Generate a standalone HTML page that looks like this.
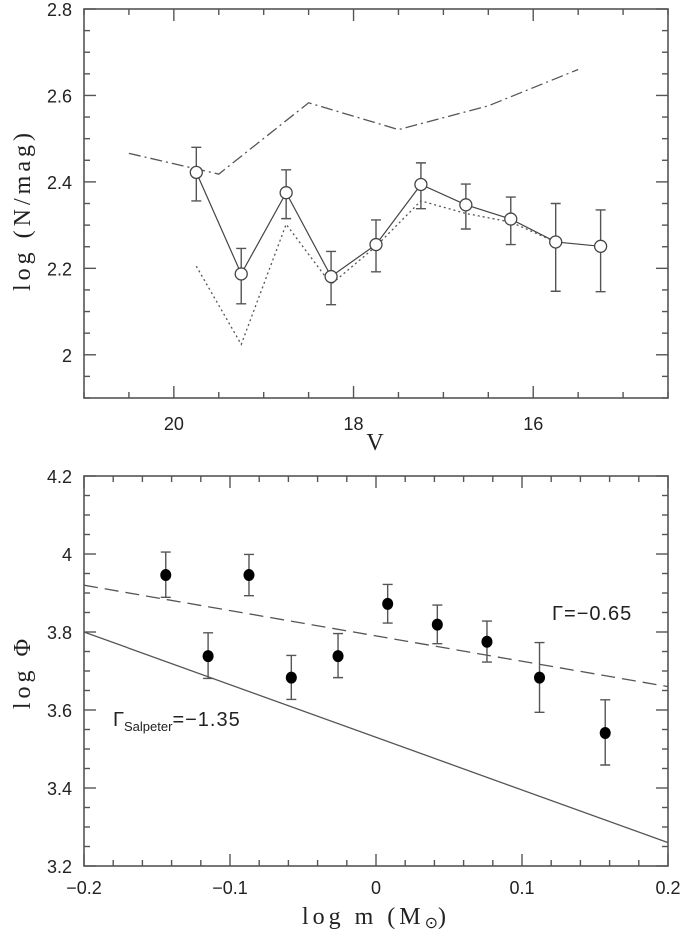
<!DOCTYPE html>
<html><head><meta charset="utf-8"><style>
body{margin:0;background:#fff}
svg{display:block}
text{fill:#222}
.tk{font-family:"Liberation Sans",sans-serif;font-size:18px}
.ti{font-family:"Liberation Serif",serif;font-size:24px;letter-spacing:2px}
</style></head><body>
<svg id="c" width="683" height="933" viewBox="0 0 683 933" xmlns="http://www.w3.org/2000/svg"></svg>
<script>
// Top panel data
const topV = [19.75, 19.25, 18.75, 18.25, 17.75, 17.25, 16.75, 16.25, 15.75, 15.25];
const topN = [2.422, 2.187, 2.375, 2.181, 2.255, 2.394, 2.347, 2.314, 2.261, 2.251];
const topErrHi = [2.48, 2.246, 2.428, 2.239, 2.312, 2.444, 2.395, 2.365, 2.35, 2.335];
const topErrLo = [2.356, 2.118, 2.315, 2.116, 2.192, 2.338, 2.291, 2.255, 2.147, 2.146];
const dotV = [19.75, 19.25, 18.75, 18.25, 17.75, 17.25, 16.75, 16.25, 15.75];
const dotN = [2.205, 2.024, 2.302, 2.163, 2.251, 2.356, 2.327, 2.307, 2.261];
const dashDotV = [20.5, 19.5, 18.5, 17.5, 16.5, 15.5];
const dashDotN = [2.466, 2.418, 2.583, 2.521, 2.576, 2.66];
const topXTicks = [20, 18, 16];
const topYTicks = [2, 2.2, 2.4, 2.6, 2.8];
// Bottom panel data
const botM = [-0.144, -0.115, -0.087, -0.058, -0.026, 0.008, 0.042, 0.076, 0.112, 0.157];
const botPhi = [3.946, 3.738, 3.946, 3.683, 3.738, 3.872, 3.819, 3.775, 3.683, 3.541];
const botErrHi = [4.005, 3.798, 3.999, 3.740, 3.796, 3.922, 3.869, 3.828, 3.773, 3.626];
const botErrLo = [3.889, 3.681, 3.893, 3.627, 3.683, 3.823, 3.770, 3.723, 3.594, 3.459];
const fitGamma = [-0.65, -1.35];
const fitIntercept = [3.79, 3.53];
const botXTicks = [-0.2, -0.1, 0, 0.1, 0.2];
const botYTicks = [3.2, 3.4, 3.6, 3.8, 4, 4.2];

const NS = "http://www.w3.org/2000/svg";
const svg = document.getElementById("c");
function el(tag, attrs, parent) {
  const e = document.createElementNS(NS, tag);
  for (const k in attrs) e.setAttribute(k, attrs[k]);
  (parent || svg).appendChild(e);
  return e;
}
const L = 84, R = 668;
const tx = v => L + (21 - v) / 6.5 * (R - L);
const tT = 9, tB = 398;
const ty = n => tT + (2.8 - n) / 0.9 * (tB - tT);
const bx = m => L + (m + 0.2) / 0.4 * (R - L);
const bT = 476, bB = 866;
const by = p => bT + (4.2 - p) / 1.0 * (bB - bT);

function frame(name, T, B) {
  const r = el("rect", {x: L, y: T, width: R - L, height: B - T, fill: "none", stroke: "#555", "stroke-width": 1.6});
  
  
}
function tick(x1, y1, x2, y2) { el("line", {x1, y1, x2, y2, stroke: "#555", "stroke-width": 1.4}); }
function label(txt, x, y, anchor, cls, name) {
  const t = el("text", {x, y, "text-anchor": anchor, class: cls});
  t.textContent = txt;
  
  
  return t;
}

// ---- TOP PANEL ----
frame('top-plot-frame', tT, tB);
for (let v = 21; v >= 14.5 - 1e-9; v -= 0.5) {
  const major = Math.abs(v % 2) < 1e-9;
  const len = major ? 12 : 6;
  tick(tx(v), tB, tx(v), tB - len);
  tick(tx(v), tT, tx(v), tT + len);
}
for (let i = 0; i <= 18; i++) {
  const n = 1.9 + i * 0.05;
  const len = (i % 4 === 2) ? 12 : 6;
  tick(L, ty(n), L + len, ty(n));
  tick(R, ty(n), R - len, ty(n));
}
topXTicks.forEach(v => label(String(v), tx(v), tB + 32, "middle", "tk", "top-x-tick-label"));
topYTicks.forEach(n => label(String(n), 72, ty(n) + 7, "end", "tk", "top-y-tick-label"));
label("V", tx(17.75), 450, "middle", "ti", "top-x-axis-title");
const yt1 = label("log (N/mag)", 0, 0, "middle", "ti", "top-y-axis-title");
yt1.setAttribute("transform", "translate(30,210) rotate(-90)");
yt1.setAttribute("style", "letter-spacing:4px");

let p = el("polyline", {points: dashDotV.map((v, i) => tx(v) + "," + ty(dashDotN[i])).join(" "), fill: "none", stroke: "#555", "stroke-width": 1.3, "stroke-dasharray": "12,4,2,4"});


p = el("polyline", {points: dotV.map((v, i) => tx(v) + "," + ty(dotN[i])).join(" "), fill: "none", stroke: "#555", "stroke-width": 1.3, "stroke-dasharray": "2,3"});


p = el("polyline", {points: topV.map((v, i) => tx(v) + "," + ty(topN[i])).join(" "), fill: "none", stroke: "#444", "stroke-width": 1.2});


topV.forEach((v, i) => {
  const x = tx(v);
  const e = el("path", {d: `M${x},${ty(topErrHi[i])}V${ty(topErrLo[i])}M${x - 5},${ty(topErrHi[i])}h10M${x - 5},${ty(topErrLo[i])}h10`, stroke: "#555", "stroke-width": 1.4, fill: "none"});
  
  
  const c = el("circle", {cx: x, cy: ty(topN[i]), r: 6, fill: "#fff", stroke: "#444", "stroke-width": 1.3});
  
  
});

// ---- BOTTOM PANEL ----
frame('bottom-plot-frame', bT, bB);
for (let i = 0; i <= 20; i++) {
  const m = -0.2 + i * 0.02;
  const len = i % 5 === 0 ? 12 : 6;
  tick(bx(m), bB, bx(m), bB - len);
  tick(bx(m), bT, bx(m), bT + len);
}
for (let i = 0; i <= 20; i++) {
  const v = 3.2 + i * 0.05;
  const len = i % 4 === 0 ? 12 : 6;
  tick(L, by(v), L + len, by(v));
  tick(R, by(v), R - len, by(v));
}
botXTicks.forEach(m => label((m < 0 ? "\u2212" : "") + (m === 0 ? "0" : Math.abs(m).toString()), bx(m), bB + 28, "middle", "tk", "bottom-x-tick-label"));
botYTicks.forEach(v => label(String(v), 72, by(v) + 7, "end", "tk", "bottom-y-tick-label"));
const xl = label("log m (M", 376, 924, "middle", "ti", "bottom-x-axis-title");
xl.setAttribute("style", "letter-spacing:4px");
const ts = el("tspan", {dy: 4, style: "font-size:16px;letter-spacing:0"}, xl); ts.textContent = "\u2299";


const ts2 = el("tspan", {dy: -4}, xl); ts2.textContent = ")";


const yt2 = label("log \u03A6", 0, 0, "middle", "ti", "bottom-y-axis-title");
yt2.setAttribute("transform", "translate(30,672) rotate(-90)");
yt2.setAttribute("style", "letter-spacing:4px");

fitGamma.forEach((g, i) => {
  const l = el("line", {x1: bx(-0.2), y1: by(fitIntercept[i] + g * -0.2), x2: bx(0.2), y2: by(fitIntercept[i] + g * 0.2), stroke: "#555", "stroke-width": 1.3, "stroke-dasharray": i === 0 ? "14,7" : "none"});
  
  
});
botM.forEach((m, i) => {
  const x = bx(m);
  const e = el("path", {d: `M${x},${by(botErrHi[i])}V${by(botErrLo[i])}M${x - 5},${by(botErrHi[i])}h10M${x - 5},${by(botErrLo[i])}h10`, stroke: "#555", "stroke-width": 1.4, fill: "none"});
  
  
  const c = el("ellipse", {cx: x, cy: by(botPhi[i]), rx: 5.5, ry: 6, fill: "#000"});
  
  
});
const g1 = label("\u0393=\u22120.65", 552, 620, "start", "tk", "gamma-fit-label");
g1.setAttribute("style", "font-size:20px;letter-spacing:1px");
const g2 = label("\u0393", 113, 726, "start", "tk", "gamma-salpeter-label");
g2.setAttribute("style", "font-size:20px");
const sub = el("tspan", {dy: 5, style: "font-size:13px"}, g2); sub.textContent = "Salpeter";


const rest = el("tspan", {dy: -5, style: "letter-spacing:1px"}, g2); rest.textContent = "=\u22121.35";


</script>
</body></html>
